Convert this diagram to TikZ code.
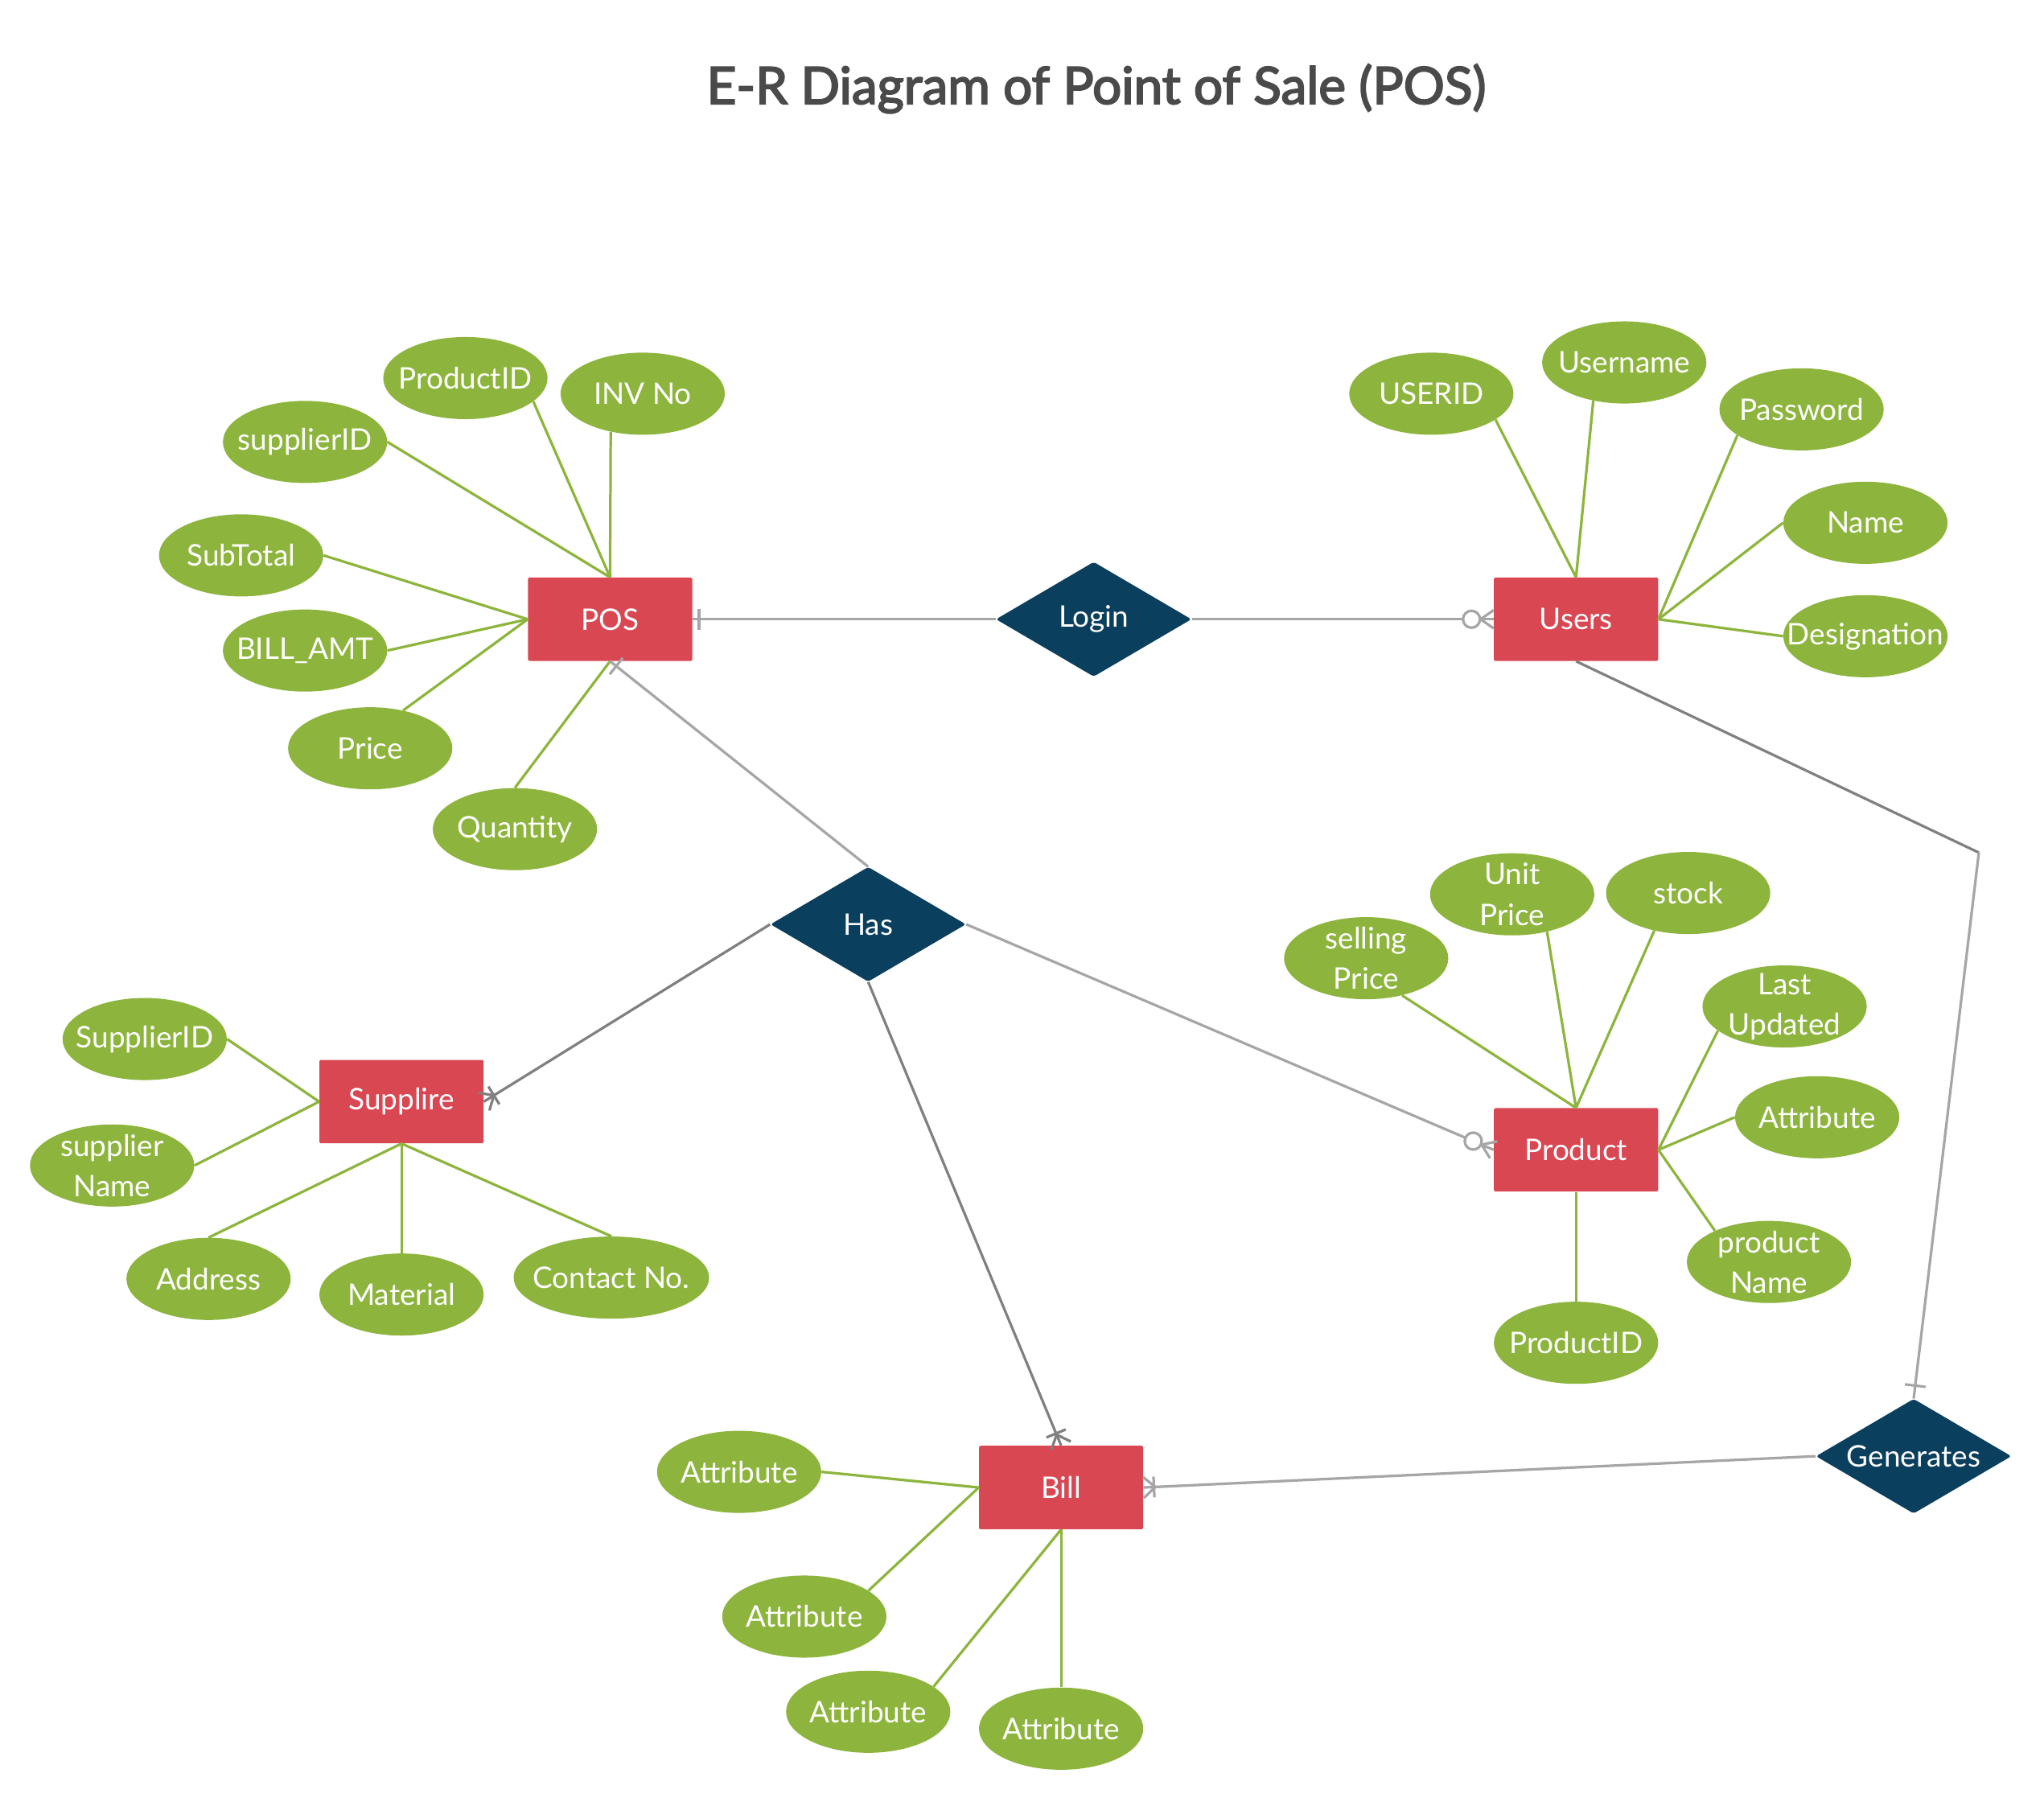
\documentclass[tikz,border=0pt]{standalone}
\usepackage{fontspec}
\setmainfont{Lato}
\newfontfamily\titlefont{Lato}[FakeBold=3]
\usetikzlibrary{shapes.geometric,decorations.markings}
\definecolor{entred}{HTML}{D94753}
\definecolor{relblue}{HTML}{0B3F5E}
\definecolor{attgreen}{HTML}{8DB53D}
\definecolor{lgray}{HTML}{A6A6A6}
\definecolor{dgray}{HTML}{808080}
\definecolor{titlegray}{HTML}{4A4A4A}
\begin{document}
\begin{tikzpicture}[x=1pt,y=-1pt,
  entity/.style={rectangle, fill=entred, minimum width=126pt, minimum height=64pt, inner sep=0pt, text=white, font=\fontsize{22.8}{26}\selectfont, rounded corners=1pt},
  rel/.style={diamond, fill=relblue, aspect=1.7, minimum width=150pt, minimum height=88pt, inner sep=0pt, text=white, font=\fontsize{22.8}{26}\selectfont, rounded corners=2pt},
  attr/.style={ellipse, fill=attgreen, minimum width=126pt, minimum height=63pt, inner sep=0pt},
  atext/.style={text=white, font=\fontsize{22.8}{31}\selectfont, align=center, inner sep=0pt},
  attline/.style={draw=attgreen, line width=2pt},
  conn/.style={draw=#1, line width=2pt},
  mkone/.style 2 args={postaction={decorate,decoration={markings,mark=at position 1 with {\draw[#1,line width=2pt] (-#2,-8pt) -- (-#2,8pt);}}}},
  mkmany/.style 2 args={postaction={decorate,decoration={markings,mark=at position 1 with {\draw[#1,line width=2pt] (0pt,8pt) -- (-9pt,0pt) -- (0pt,-8pt); \draw[#1,line width=2pt] (-#2,-8pt) -- (-#2,8pt);}}}},
  mkzmany/.style={postaction={decorate,decoration={markings,mark=at position 1 with {\draw[#1,line width=2pt] (0pt,7pt) -- (-10pt,0pt) -- (0pt,-7pt); \draw[#1,line width=2pt,fill=white] (-17pt,0pt) circle (6.5pt);}}}}
]
\useasboundingbox (0,0) rectangle (1568,1382);

% title
\node[font=\titlefont\fontsize{39.4}{44}\selectfont, text=titlegray] (title) at (841,68) {E-R Diagram of Point of Sale (POS)};

% entities
\node[entity] (POS) at (468,475) {POS};
\node[entity] (Users) at (1209,475) {Users};
\node[entity] (Supplire) at (308,845) {Supplire};
\node[entity] (Product) at (1209,882) {Product};
\node[entity] (Bill) at (814,1141) {Bill};

% relationships
\node[rel] (Login) at (839,475) {Login};
\node[rel] (Has) at (666,709) {Has};
\node[rel] (Generates) at (1468,1117) {Generates};

% POS attributes
\node[attr, label={[atext]center:ProductID}] (pa1) at (357,290) {};
\node[attr, label={[atext]center:INV No}] (pa2) at (493,302) {};
\node[attr, label={[atext]center:supplierID}] (pa3) at (234,339) {};
\node[attr, label={[atext]center:SubTotal}] (pa4) at (185,426) {};
\node[attr, label={[atext]center:BILL\_AMT}] (pa5) at (234,499) {};
\node[attr, label={[atext]center:Price}] (pa6) at (284,574) {};
\node[attr, label={[atext]center:Quantity}] (pa7) at (395,636) {};
\draw[attline] (pa1.-19) -- (POS.north);
\draw[attline] (pa2.-130) -- (POS.north);
\draw[attline] (pa3.east) -- (POS.north);
\draw[attline] (pa4.east) -- (POS.west);
\draw[attline] (pa5.east) -- (POS.west);
\draw[attline] (pa6.49) -- (POS.west);
\draw[attline] (pa7.north) -- (POS.south);

% Users attributes
\node[attr, label={[atext]center:USERID}] (ua1) at (1098,302) {};
\node[attr, label={[atext]center:Username}] (ua2) at (1246,278) {};
\node[attr, label={[atext]center:Password}] (ua3) at (1382,314) {};
\node[attr, label={[atext]center:Name}] (ua4) at (1431,401) {};
\node[attr, label={[atext]center:Designation}] (ua5) at (1431,488) {};
\draw[attline] (ua1.-22) -- (Users.north);
\draw[attline] (ua2.-129) -- (Users.north);
\draw[attline] (ua3.-158) -- (Users.east);
\draw[attline] (ua4.west) -- (Users.east);
\draw[attline] (ua5.west) -- (Users.east);

% Product attributes
\node[attr, label={[atext]center:selling\\Price}] (ra1) at (1048,735) {};
\node[attr, label={[atext]center:Unit\\Price}] (ra2) at (1160,686) {};
\node[attr, label={[atext]center:stock}] (ra3) at (1295,685) {};
\node[attr, label={[atext]center:Last\\Updated}] (ra4) at (1369,772) {};
\node[attr, label={[atext]center:Attribute}] (ra5) at (1394,857) {};
\node[attr, label={[atext]center:product\\Name}] (ra6) at (1357,968) {};
\node[attr, label={[atext]center:ProductID}] (ra7) at (1209,1030) {};
\draw[attline] (ra1.-46) -- (Product.north);
\draw[attline] (ra2.-47) -- (Product.north);
\draw[attline] (ra3.-132) -- (Product.north);
\draw[attline] (ra4.-160) -- (Product.east);
\draw[attline] (ra5.west) -- (Product.east);
\draw[attline] (ra6.150) -- (Product.east);
\draw[attline] (ra7.north) -- (Product.south);

% Supplire attributes
\node[attr, label={[atext]center:SupplierID}] (sa1) at (111,797) {};
\node[attr, label={[atext]center:supplier\\Name}] (sa2) at (86,894) {};
\node[attr, label={[atext]center:Address}] (sa3) at (160,981) {};
\node[attr, label={[atext]center:Material}] (sa4) at (308,993) {};
\node[attr, minimum width=150pt, label={[atext]center:Contact No.}] (sa5) at (469,980) {};
\draw[attline] (sa1.east) -- (Supplire.west);
\draw[attline] (sa2.east) -- (Supplire.west);
\draw[attline] (sa3.north) -- (Supplire.south);
\draw[attline] (sa4.north) -- (Supplire.south);
\draw[attline] (sa5.north) -- (Supplire.south);

% Bill attributes
\node[attr, label={[atext]center:Attribute}] (ba1) at (567,1129) {};
\node[attr, label={[atext]center:Attribute}] (ba2) at (617,1240) {};
\node[attr, label={[atext]center:Attribute}] (ba3) at (666,1313) {};
\node[attr, label={[atext]center:Attribute}] (ba4) at (814,1326) {};
\draw[attline] (ba1.east) -- (Bill.west);
\draw[attline] (ba2.22) -- (Bill.west);
\draw[attline] (ba3.21) -- (Bill.south);
\draw[attline] (ba4.north) -- (Bill.south);

% connectors
\coordinate (bend) at (1518,654);
\draw[conn=lgray, mkone={lgray}{5pt}] (Login.west) -- (POS.east);
\draw[conn=lgray, mkzmany=lgray] (Login.east) -- (Users.west);
\draw[conn=lgray, mkone={lgray}{6pt}] (Has.north) -- (POS.south);
\draw[conn=dgray, mkmany={dgray}{9pt}] (Has.west) -- (Supplire.east);
\draw[conn=lgray, mkzmany=lgray] (Has.east) -- (Product.west);
\draw[conn=dgray, mkmany={dgray}{10pt}] (Has.south) -- (Bill.north);
\draw[conn=dgray] (Users.south) -- (bend);
\draw[conn=lgray, mkone={lgray}{10pt}] (bend) -- (Generates.north);
\draw[conn=lgray, mkmany={lgray}{8pt}] (Generates.west) -- (Bill.east);
\end{tikzpicture}
\end{document}
